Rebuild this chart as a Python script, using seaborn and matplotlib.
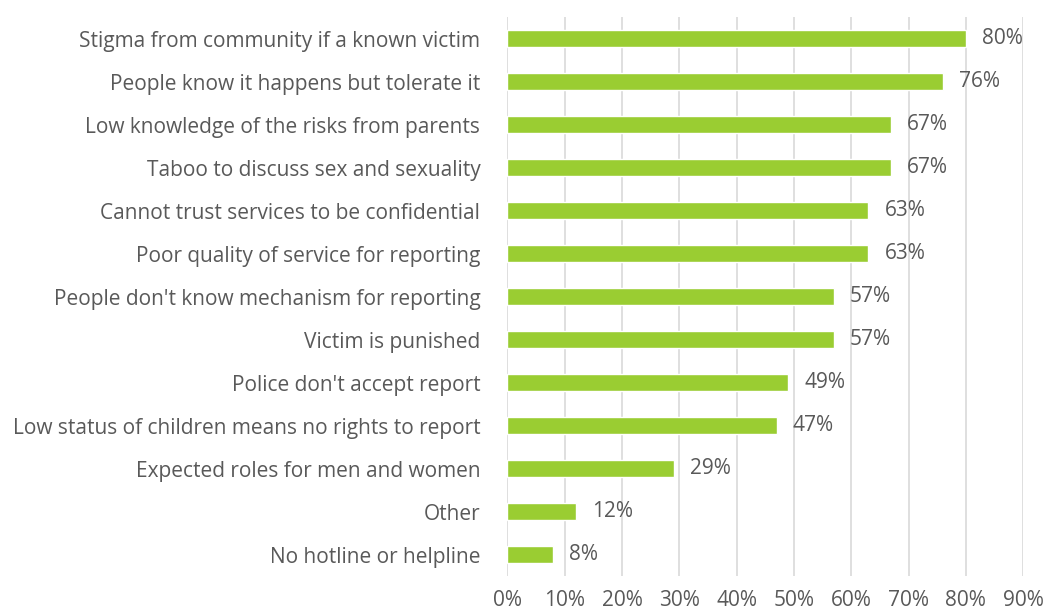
import matplotlib
matplotlib.use('Agg')
import matplotlib.pyplot as plt
import seaborn as sns
import pandas as pd
from matplotlib.ticker import PercentFormatter

# dados (percentual de respostas)
barreiras = [
    "Stigma from community if a known victim",
    "People know it happens but tolerate it",
    "Low knowledge of the risks from parents",
    "Taboo to discuss sex and sexuality",
    "Cannot trust services to be confidential",
    "Poor quality of service for reporting",
    "People don't know mechanism for reporting",
    "Victim is punished",
    "Police don't accept report",
    "Low status of children means no rights to report",
    "Expected roles for men and women",
    "Other",
    "No hotline or helpline",
]
percentuais = [80, 76, 67, 67, 63, 63, 57, 57, 49, 47, 29, 12, 8]
ticks_x = [0, 10, 20, 30, 40, 50, 60, 70, 80, 90]

df = pd.DataFrame({'barreira': barreiras, 'pct': percentuais})

sns.set_style('white')
plt.rcParams['font.family'] = ['Open Sans', 'DejaVu Sans']
cinza = '#595959'

fig = plt.figure(figsize=(10.45, 6.1), dpi=100)
ax = fig.add_axes([0.4856, 0.0557, 0.4935, 0.9163])

sns.barplot(data=df, x='pct', y='barreira', orient='h', color='#9ACD32',
            saturation=1, width=0.38, ax=ax)

ax.set_xlim(0, 90)
ax.set_xticks(ticks_x)
ax.xaxis.set_major_formatter(PercentFormatter(decimals=0))
ax.grid(True, axis='x', color='#D9D9D9', linewidth=1.2)
ax.set_axisbelow(True)
for s in ax.spines.values():
    s.set_visible(False)

ax.set_xlabel('')
ax.set_ylabel('')
ax.tick_params(axis='x', length=0, pad=10, labelsize=15, labelcolor=cinza)
ax.tick_params(axis='y', length=0, pad=19.5, labelsize=15, labelcolor=cinza)

# rótulos de valor no fim de cada barra
for i, v in enumerate(percentuais):
    ax.annotate(f'{v}%', (v, i), xytext=(11.5, 0), textcoords='offset points',
                va='center', ha='left', fontsize=15, color=cinza)

plt.savefig('out.png', dpi=100)
